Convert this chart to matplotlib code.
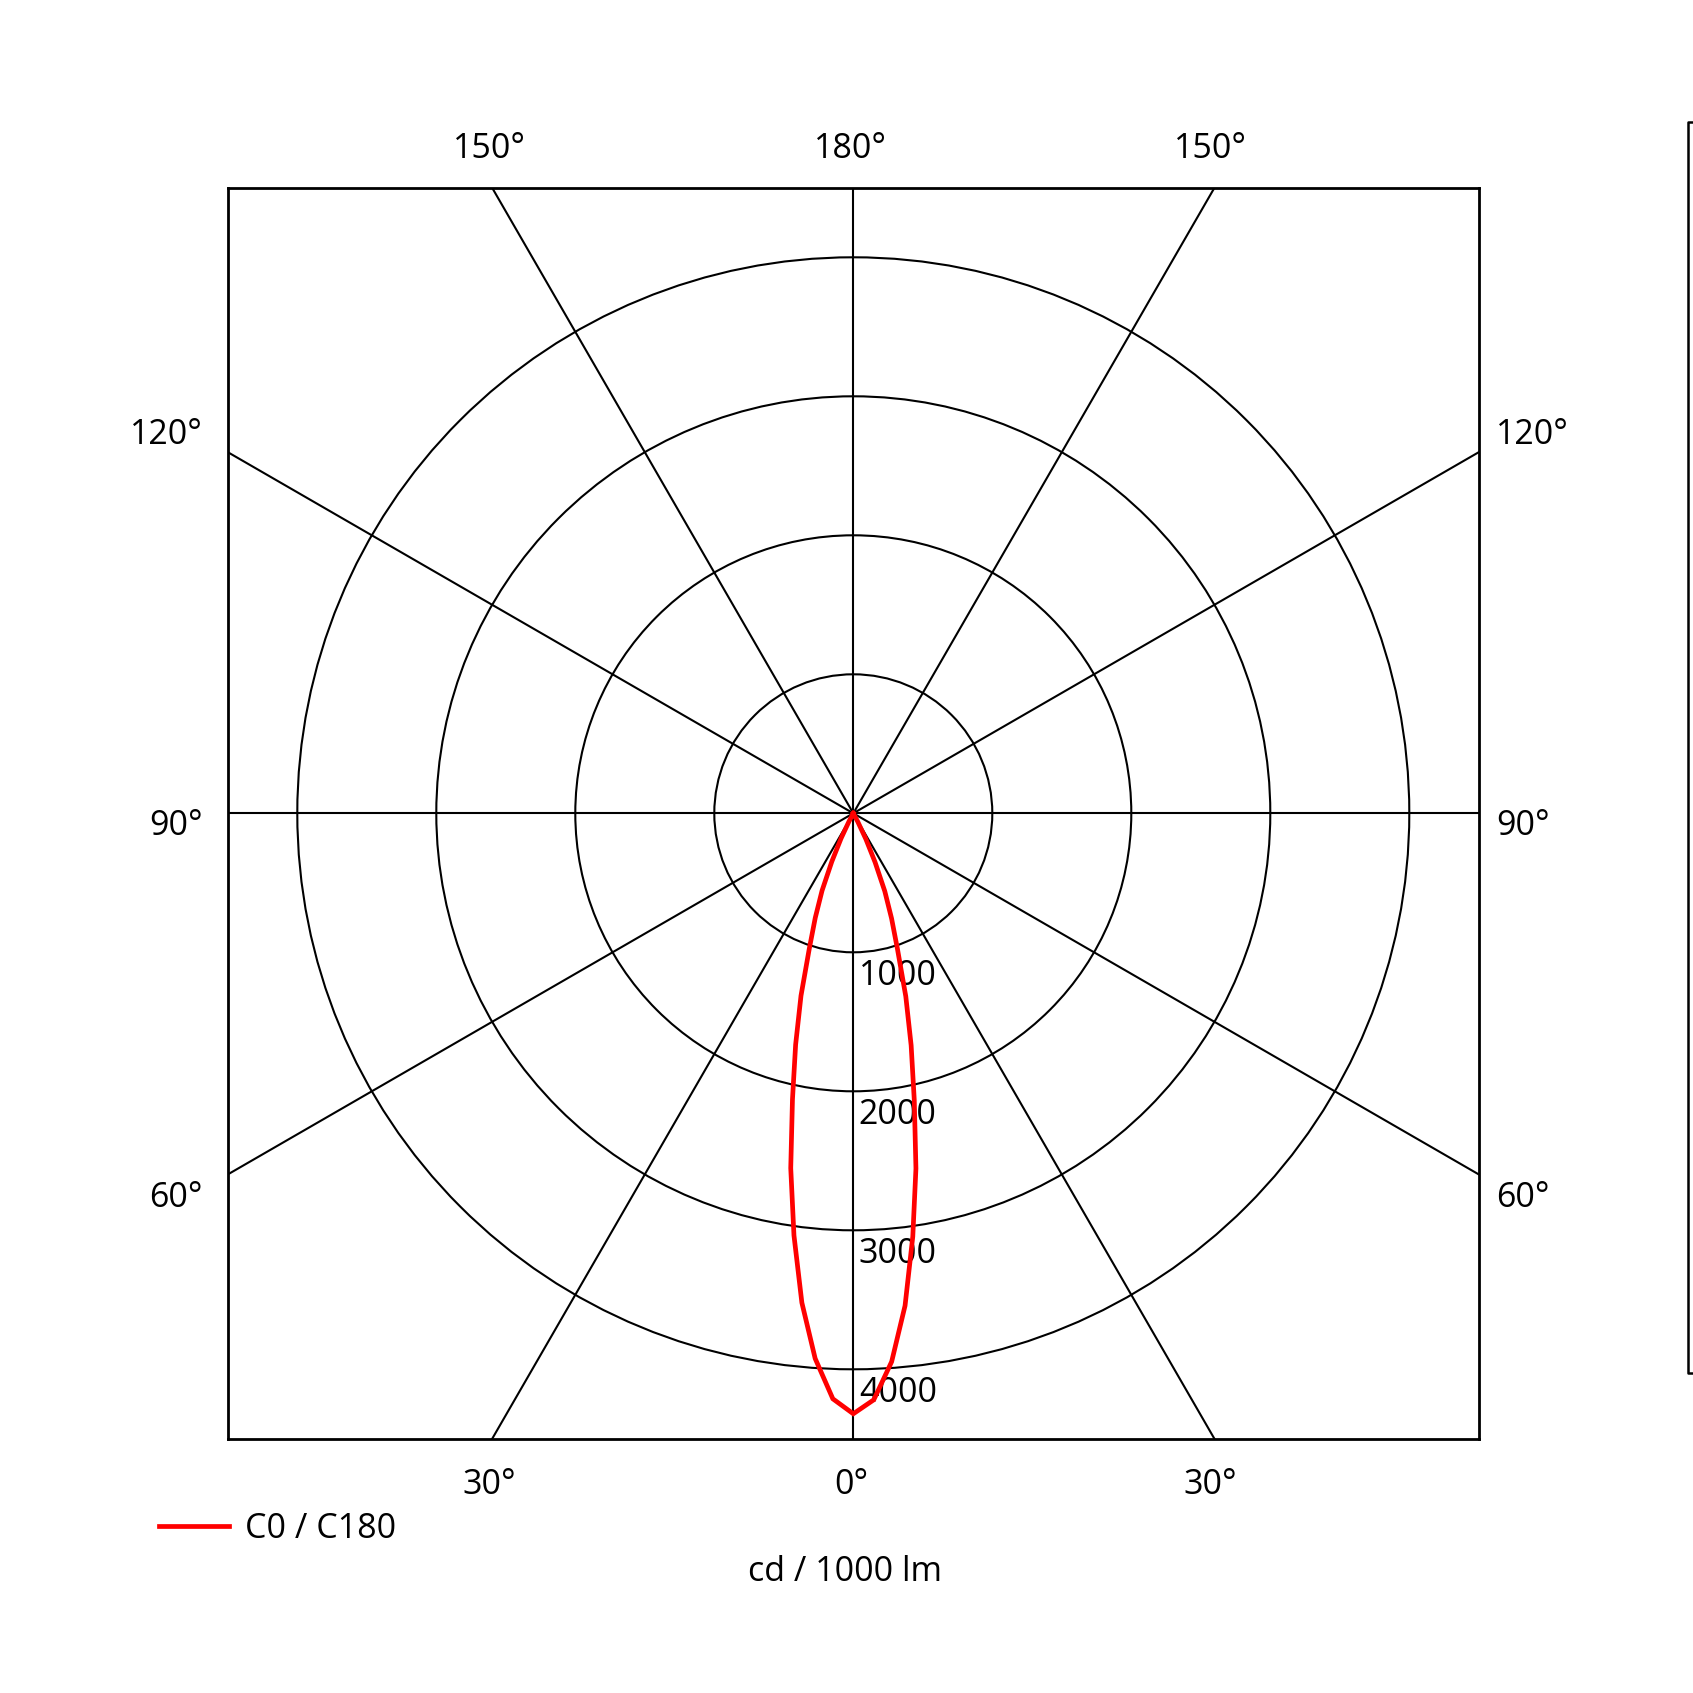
import numpy as np
import matplotlib.pyplot as plt
from matplotlib.patches import Circle
from matplotlib.lines import Line2D

plt.rcParams['font.family'] = ['Open Sans', 'DejaVu Sans']

# Luminous intensity distribution (cd / 1000 lm), gamma measured from nadir
gamma = [0, 2, 4, 6, 8, 10, 12, 14, 16, 18, 20, 22, 24, 26, 28, 30, 45, 60, 75, 90]
c0 = [4320, 4222, 3955, 3562, 3075, 2595, 2110, 1720, 1370, 1030, 805, 605, 385, 205, 70, 0, 0, 0, 0, 0]
c180 = [4320, 4215, 3932, 3540, 3067, 2592, 2105, 1715, 1365, 1025, 800, 600, 380, 200, 65, 0, 0, 0, 0, 0]

rings = [1000, 2000, 3000, 4000]
ring_labels = ['1000', '2000', '3000', '4000']
top_labels = ['150°', '180°', '150°']
bottom_labels = ['30°', '0°', '30°']
side_labels = ['120°', '90°', '60°']
series_name = 'C0 / C180'
unit_label = 'cd / 1000 lm'

W = 1693
fig = plt.figure(figsize=(16.93, 16.93), dpi=100)

# frame spans +/-4500 cd around the centre, 139 px per 1000 cd
lim = 4500
px = 0.139
cx, cy = 853.3, 813.3
half = lim * px
ax = fig.add_axes([(cx - half) / W, (W - cy - half) / W, 2 * half / W, 2 * half / W])
ax.set_xlim(-lim, lim)
ax.set_ylim(-lim, lim)
ax.set_aspect('equal')
ax.set_xticks([])
ax.set_yticks([])
for s in ax.spines.values():
    s.set_linewidth(2.0)

lw = 1.5
# radial lines every 30 degrees
for a in range(0, 180, 30):
    t = np.radians(a)
    ax.plot([-9000 * np.sin(t), 9000 * np.sin(t)], [-9000 * np.cos(t), 9000 * np.cos(t)],
            color='black', lw=lw, zorder=1)
for r in rings:
    ax.add_patch(Circle((0, 0), r, fill=False, ec='black', lw=lw, zorder=1))

fs = 24.5
for r, lab in zip(rings, ring_labels):
    ax.text(40, -r - 45, lab, ha='left', va='top', fontsize=fs, zorder=2)

# polar curve: C0 on the right, C180 on the left
g = np.radians(gamma)
xr = np.array(c0) * np.sin(g)
yr = -np.array(c0) * np.cos(g)
xl = -np.array(c180) * np.sin(g)
yl = -np.array(c180) * np.cos(g)
xs = np.concatenate([xl[::-1], xr[1:]])
ys = np.concatenate([yl[::-1], yr[1:]])
ax.plot(xs, ys, color='#ff0000', lw=3.4, zorder=3, solid_joinstyle='miter')

def ftext(x, y, s, **kw):
    fig.text(x / W, 1 - y / W, s, fontsize=fs, **kw)

for x, lab in zip([489, 850, 1210], top_labels):
    ftext(x, 149, lab, ha='center', va='center')
for x, lab in zip([489, 851, 1210], bottom_labels):
    ftext(x, 1485, lab, ha='center', va='center')
for y, lab in zip([435, 826, 1198], side_labels):
    ftext(203, y, lab, ha='right', va='center')
    ftext(1496, y, lab, ha='left', va='center')

# legend and unit
fig.add_artist(Line2D([158.7 / W, 228.9 / W], [1 - 1525.6 / W] * 2, color='#ff0000', lw=3.4))
ftext(245, 1529, series_name, ha='left', va='center')
ftext(845, 1572, unit_label, ha='center', va='center')

# edge of the neighbouring frame on the right
fig.add_artist(Line2D([1700 / W, 1688 / W, 1688 / W, 1700 / W],
                      [1 - 122 / W, 1 - 122 / W, 1 - 1373 / W, 1 - 1373 / W],
                      color='black', lw=1.8))

fig.savefig('out.png', dpi=100)
